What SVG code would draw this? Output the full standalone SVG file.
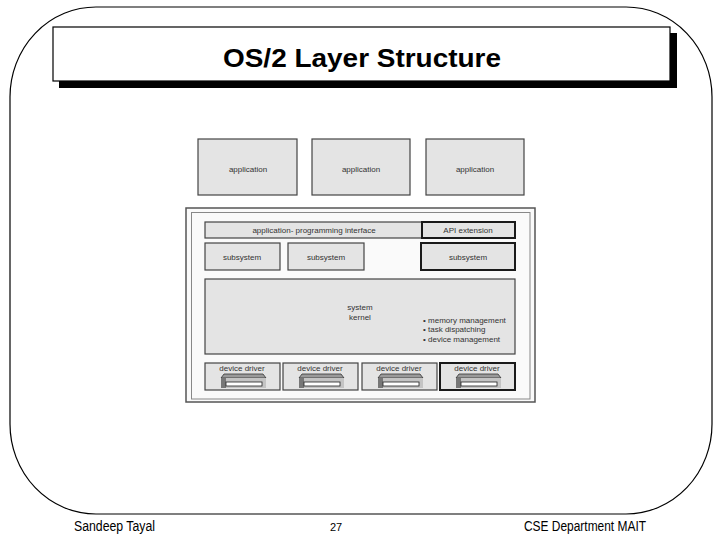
<svg xmlns="http://www.w3.org/2000/svg" width="720" height="540" viewBox="0 0 720 540">
<defs>
<style>
.box{fill:#e4e4e4;stroke:#444;stroke-width:1.2}
.thick{fill:#e4e4e4;stroke:#1a1a1a;stroke-width:2}
.lbl{font-family:"Liberation Sans",Arial,sans-serif;font-size:8px;fill:#333;text-anchor:middle}
.bul{font-family:"Liberation Sans",Arial,sans-serif;font-size:8px;fill:#333}
.foot{font-family:"Liberation Sans",Arial,sans-serif;font-size:14px;fill:#000}
.trap{fill:#9a9a9a;stroke:#333;stroke-width:0.8}
</style>
</defs>
<rect x="0" y="0" width="720" height="540" fill="#fff"/>
<!-- page frame -->
<rect x="10" y="7" width="702" height="507" rx="86" ry="90" fill="none" stroke="#000" stroke-width="1.2"/>
<!-- title -->
<g id="title">
<rect x="59" y="33" width="618" height="55" fill="#000"/>
<rect x="53" y="27" width="617" height="54" fill="#fff" stroke="#000" stroke-width="1.2"/>
<text x="223" y="67" font-family="'Liberation Sans',Arial,sans-serif" font-weight="bold" font-size="26.5" textLength="278" lengthAdjust="spacingAndGlyphs">OS/2 Layer Structure</text>
</g>
<!-- applications -->
<g id="app1"><rect class="box" x="198" y="139" width="99" height="56"/><text class="lbl" x="248" y="172">application</text></g>
<g id="app2"><rect class="box" x="312" y="139" width="98" height="56"/><text class="lbl" x="361" y="172">application</text></g>
<g id="app3"><rect class="box" x="426" y="139" width="98" height="56"/><text class="lbl" x="475" y="172">application</text></g>
<!-- OS container -->
<g id="os">
<rect x="186" y="208" width="349" height="194" fill="#fafafa" stroke="#555" stroke-width="1.5"/>
<rect x="191.5" y="212.5" width="338.5" height="186.5" fill="none" stroke="#888" stroke-width="1"/>
</g>
<g id="api"><rect class="box" x="205" y="222" width="217" height="16"/><text class="lbl" x="314" y="233">application- programming interface</text></g>
<g id="apiext"><rect class="thick" x="422" y="222" width="93" height="16"/><text class="lbl" x="468" y="233">API extension</text></g>
<g id="sub1"><rect class="box" x="205" y="243" width="75" height="27"/><text class="lbl" x="242" y="260">subsystem</text></g>
<g id="sub2"><rect class="box" x="288" y="243" width="76" height="27"/><text class="lbl" x="326" y="260">subsystem</text></g>
<g id="sub3"><rect class="thick" x="421" y="243" width="94" height="27"/><text class="lbl" x="468" y="260">subsystem</text></g>
<g id="kernel">
<rect class="box" x="205" y="279" width="310" height="75"/>
<text class="lbl" x="360" y="310">system</text>
<text class="lbl" x="360" y="320">kernel</text>
<text class="bul" x="423" y="323">• memory management</text>
<text class="bul" x="423" y="332">• task dispatching</text>
<text class="bul" x="423" y="342">• device management</text>
</g>
<!-- device drivers -->
<g id="dd1">
<rect class="box" x="205" y="363" width="75" height="27"/><text class="lbl" x="242" y="371">device driver</text>
<polygon class="trap" points="224,374 263,374 266,378 221,378"/>
<rect x="221" y="378" width="45" height="10" fill="#c4c4c4"/><rect x="221" y="378" width="5" height="10" fill="#777"/>
<rect x="226" y="382" width="36" height="4" fill="#fff" stroke="#222" stroke-width="0.8"/>
</g>
<g id="dd2">
<rect class="box" x="283" y="363" width="75" height="27"/><text class="lbl" x="320" y="371">device driver</text>
<polygon class="trap" points="302,374 341,374 344,378 299,378"/>
<rect x="299" y="378" width="45" height="10" fill="#c4c4c4"/><rect x="299" y="378" width="5" height="10" fill="#777"/>
<rect x="304" y="382" width="36" height="4" fill="#fff" stroke="#222" stroke-width="0.8"/>
</g>
<g id="dd3">
<rect class="box" x="362" y="363" width="75" height="27"/><text class="lbl" x="399" y="371">device driver</text>
<polygon class="trap" points="381,374 420,374 423,378 378,378"/>
<rect x="378" y="378" width="45" height="10" fill="#c4c4c4"/><rect x="378" y="378" width="5" height="10" fill="#777"/>
<rect x="383" y="382" width="36" height="4" fill="#fff" stroke="#222" stroke-width="0.8"/>
</g>
<g id="dd4">
<rect class="thick" x="440" y="363" width="75" height="27"/><text class="lbl" x="477" y="371">device driver</text>
<polygon class="trap" points="459,374 498,374 501,378 456,378"/>
<rect x="456" y="378" width="45" height="10" fill="#c4c4c4"/><rect x="456" y="378" width="5" height="10" fill="#777"/>
<rect x="461" y="382" width="36" height="4" fill="#fff" stroke="#222" stroke-width="0.8"/>
</g>
<g id="connectors"></g>
<!-- footer -->
<text class="foot" x="74" y="531" textLength="81" lengthAdjust="spacingAndGlyphs">Sandeep Tayal</text>
<text x="330" y="531" font-family="'Liberation Sans',Arial,sans-serif" font-size="11">27</text>
<text class="foot" x="524" y="531" textLength="122" lengthAdjust="spacingAndGlyphs">CSE Department MAIT</text>
</svg>
